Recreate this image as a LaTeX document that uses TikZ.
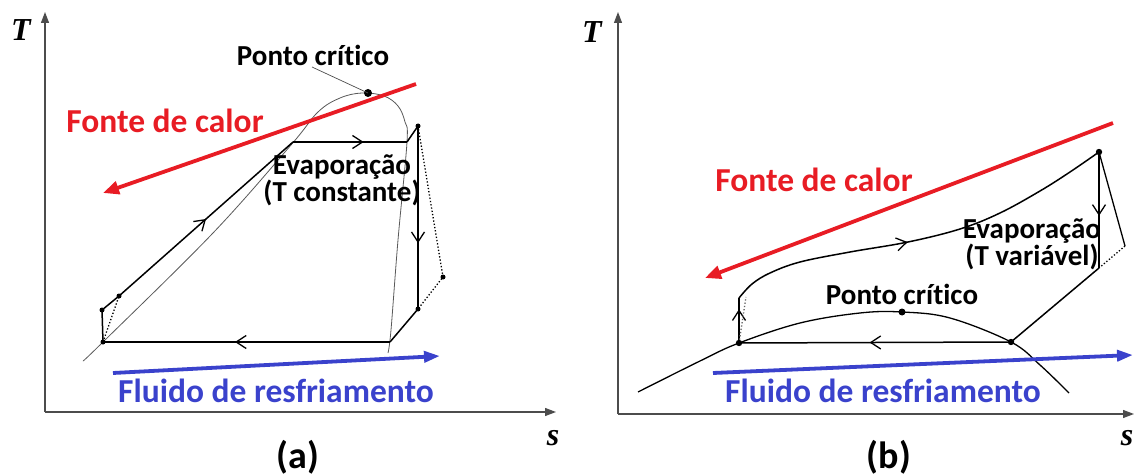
\documentclass[tikz,border=0pt]{standalone}
\usepackage{fontspec}
\setmainfont{Carlito}[Ligatures=NoCommon]
\newfontfamily\axisfont{Liberation Serif}
\usetikzlibrary{arrows.meta,decorations.markings}
\definecolor{heatred}{RGB}{232,28,36}
\definecolor{coolblue}{RGB}{58,66,204}

\begin{document}
\begin{tikzpicture}[x=1pt,y=-1pt,
  font=\bfseries,
  axis/.style={draw=black!70,line width=1.2pt,-{Triangle[length=11pt,width=8pt]}},
  axlbl/.style={font=\axisfont\bfseries\itshape\fontsize{32}{32}\selectfont},
  cyc/.style={line width=1.5pt,line join=round},
  dots/.style={line width=1.3pt,dotted},
  midarr/.style={postaction={decorate},decoration={markings,
      mark=at position #1 with {\arrow{Straight Barb[length=10pt,width=13pt,line width=1.3pt]}}}},
  heat/.style={draw=heatred,line width=3.8pt,-{Triangle[length=16pt,width=13pt]}},
  cool/.style={draw=coolblue,line width=3.8pt,-{Triangle[length=16pt,width=11pt]}},
  heatlbl/.style={text=heatred,font=\bfseries\fontsize{33.5}{34}\selectfont},
  coollbl/.style={text=coolblue,font=\bfseries\fontsize{33.5}{34}\selectfont},
  txt/.style={font=\bfseries\fontsize{29}{27}\selectfont,align=center},
  panellbl/.style={font=\bfseries\fontsize{38}{38}\selectfont},
]
\useasboundingbox (0,0) rectangle (1136,476);

% ---- (a) constant temperature evaporation
\coordinate (oa) at (45,412);
\coordinate (ta) at (45,12);
\coordinate (sa) at (556,412);
\draw[axis] (oa) -- (ta);
\draw[axis] (oa) -- (sa);
\node[axlbl] (Ta) at (21,30) {T};
\node[axlbl] (sla) at (553,438) {s};

% saturation dome
\draw[black!65,line width=0.8pt] plot[smooth,tension=0.6] coordinates {(83,361) (103,342) (213,233) (291,145)
  (318,112) (340,98) (362,93) (384,96) (398,106) (405,122) (407,142) (398,240) (391,330) (388,353)};

\coordinate (a1) at (103,342);
\coordinate (a2) at (102,310);
\coordinate (a3) at (119,296);
\coordinate (a4) at (293,142);
\coordinate (a5) at (407,142);
\coordinate (a6) at (418,126);
\coordinate (a7) at (418,309);
\coordinate (a8) at (390,342);
\coordinate (a9) at (443,277);
\draw[cyc] (a1) -- (a2) -- (a3);
\draw[cyc,midarr=0.5] (a3) -- (a4);
\draw[cyc,midarr=0.62] (a4) -- (a5);
\draw[cyc] (a5) -- (a6);
\draw[cyc,midarr=0.64] (a6) -- (a7);
\draw[cyc] (a7) -- (a8);
\draw[cyc,midarr=0.54] (a8) -- (a1);
\draw[dots] (a1) -- (a3);
\draw[dots] (a6) -- (a9) -- (a7);
\foreach \p in {a1,a2,a3,a6,a7,a9} \fill (\p) circle (2.5);

\coordinate (cpa) at (368,93);
\fill (cpa) circle (4);
\node[txt] (pca) at (313,55) {Ponto crítico};
\draw[black!70,line width=0.7pt] (312,67) -- (cpa);

\coordinate (ha1) at (416,84);
\coordinate (ha2) at (103,193);
\draw[heat] (ha1) -- (ha2);
\node[heatlbl] (fca) at (165,121) {Fonte de calor};
\node[txt] (eva) at (342,180) {Evaporação\\(T constante)};

\coordinate (ca1) at (113,373);
\coordinate (ca2) at (440,356);
\draw[cool] (ca1) -- (ca2);
\node[coollbl] (fra) at (276,391) {Fluido de resfriamento};
\node[panellbl] (capa) at (298,457) {(a)};

% ---- (b) variable temperature evaporation
\coordinate (ob) at (618,414);
\coordinate (tb) at (618,12);
\coordinate (sb) at (1134,414);
\draw[axis] (ob) -- (tb);
\draw[axis] (ob) -- (sb);
\node[axlbl] (Tb) at (592,32) {T};
\node[axlbl] (slb) at (1127,438) {s};

% saturation dome
\draw[line width=1.3pt] plot[smooth,tension=0.6] coordinates {(638,392) (700,361) (739,343) (800,323)
  (860,313) (902,312) (950,318) (1011,342) (1040,365) (1069,393)};

\coordinate (b1) at (739,343);
\coordinate (b2) at (739,298);
\coordinate (b3) at (1099,152);
\coordinate (b4) at (1099,268);
\coordinate (b5) at (1011,342);
\coordinate (b6) at (1125,246);
\coordinate (b7) at (746,297);
\draw[cyc,midarr=0.75] (b1) -- (b2);
\draw[cyc,midarr=0.46] plot[smooth,tension=0.6] coordinates {(b2) (752,284) (770,273) (800,262) (850,252)
  (908,242) (960,229) (1000,213) (1040,191) (1070,172) (b3)};
\draw[cyc,midarr=0.55] (b3) -- (b4);
\draw[cyc] (b4) -- (b5);
\draw[cyc,midarr=0.52] (b5) -- (b1);
\draw[cyc,line width=1.3pt] (b3) -- (b6);
\draw[dots] (b6) -- (b4);
\draw[dots,black!60] (b1) -- (b7);
\foreach \p in {b1,b3,b5} \fill (\p) circle (3.2);

\coordinate (cpb) at (902,312);
\fill (cpb) circle (3.5);
\node[txt] (pcb) at (902,294) {Ponto crítico};

\coordinate (hb1) at (1113,123);
\coordinate (hb2) at (705,278);
\draw[heat] (hb1) -- (hb2);
\node[heatlbl] (fcb) at (814,180) {Fonte de calor};
\node[txt] (evb) at (1032,244) {Evaporação\\(T variável)};

\coordinate (cb1) at (713,373);
\coordinate (cb2) at (1133,355);
\draw[cool] (cb1) -- (cb2);
\node[coollbl] (frb) at (883,391) {Fluido de resfriamento};
\node[panellbl] (capb) at (889,457) {(b)};
\end{tikzpicture}
\end{document}
